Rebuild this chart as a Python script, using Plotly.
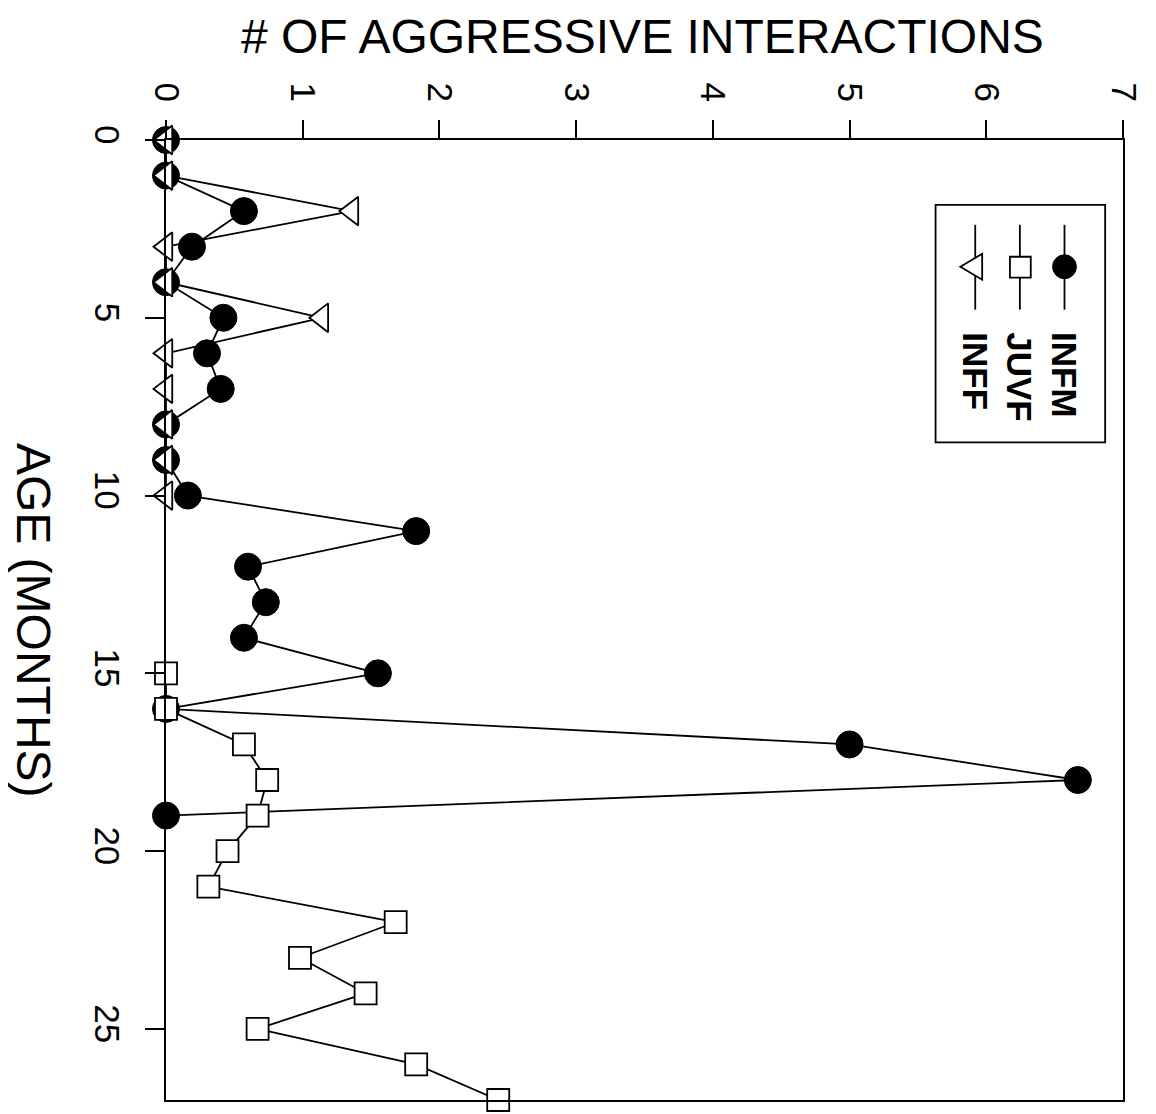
import plotly.graph_objects as go

# ---- data ----
infm_age = list(range(0, 20))
infm_val = [0, 0, 0.57, 0.19, 0, 0.42, 0.30, 0.40, 0, 0, 0.16, 1.83, 0.60, 0.73, 0.57, 1.55, 0, 5.0, 6.67, 0]

juvf_age = list(range(15, 28))
juvf_val = [0, 0, 0.57, 0.74, 0.67, 0.45, 0.31, 1.68, 0.98, 1.46, 0.67, 1.83, 2.43]

inff_age = list(range(0, 11))
inff_val = [0, 0, 1.36, 0, 0, 1.14, 0, 0, 0, 0, 0]

age_ticks = [0, 5, 10, 15, 20, 25]
count_ticks = [0, 1, 2, 3, 4, 5, 6, 7]

OFF = 8  # page body margin
W, H = 1156 - OFF, 1114 - OFF
PL, PR, PT, PB = 166, 1131, 140, 1102  # plot area in page pixels


def px(xp):
    return (xp - PL) / (PR - PL)


def py(yp):
    return (PB - yp) / (PB - PT)


FONT = "Liberation Sans"
LINE = dict(color="black", width=1.8)

fig = go.Figure()
fig.add_trace(go.Scatter(
    x=infm_val, y=infm_age, mode="lines+markers", name="INFM", cliponaxis=False,
    line=LINE, marker=dict(symbol="circle", size=27, color="black", line=dict(color="black", width=1))))
fig.add_trace(go.Scatter(
    x=juvf_val, y=juvf_age, mode="lines+markers", name="JUVF", cliponaxis=False,
    line=LINE, marker=dict(symbol="square", size=22, color="white", line=dict(color="black", width=1.8))))
fig.add_trace(go.Scatter(
    x=inff_val, y=inff_age, mode="lines+markers", name="INFF", cliponaxis=False,
    line=LINE, marker=dict(symbol="triangle-left", size=25, color="white", line=dict(color="black", width=1.8))))

shapes = []
# legend box
shapes.append(dict(type="rect", xref="paper", yref="paper", x0=px(942), x1=px(1113), y0=py(443), y1=py(205),
                   line=dict(color="black", width=1.8), fillcolor="white", layer="above"))
for xc in (1072, 1027, 982):
    shapes.append(dict(type="line", xref="paper", yref="paper", x0=px(xc), x1=px(xc), y0=py(225), y1=py(310),
                       line=dict(color="black", width=1.8), layer="above"))
# circle
shapes.append(dict(type="circle", xref="paper", yref="paper", x0=px(1072 - 12), x1=px(1072 + 12),
                   y0=py(267 + 12), y1=py(267 - 12), fillcolor="black", line=dict(color="black", width=1), layer="above"))
# square
shapes.append(dict(type="rect", xref="paper", yref="paper", x0=px(1017), x1=px(1038),
                   y0=py(278), y1=py(257), fillcolor="white", line=dict(color="black", width=1.8), layer="above"))
# triangle-left
tri = "M {:.5f} {:.5f} L {:.5f} {:.5f} L {:.5f} {:.5f} Z".format(px(967), py(267), px(989), py(254), px(989), py(280))
shapes.append(dict(type="path", xref="paper", yref="paper", path=tri, fillcolor="white",
                   line=dict(color="black", width=1.8), layer="above"))

annotations = [
    dict(text="# OF AGGRESSIVE INTERACTIONS", xref="paper", yref="paper", x=px(646), y=py(36),
         xanchor="center", yanchor="middle", showarrow=False, font=dict(family=FONT, size=48, color="black")),
    dict(text="AGE (MONTHS)", xref="paper", yref="paper", x=px(33), y=py(621), textangle=90,
         xanchor="center", yanchor="middle", showarrow=False, font=dict(family=FONT, size=48, color="black")),
]
for name, xc in (("INFM", 1072), ("JUVF", 1027), ("INFF", 982)):
    annotations.append(dict(text="<b>%s</b>" % name, xref="paper", yref="paper", x=px(xc), y=py(331),
                            textangle=90, xanchor="center", yanchor="top", showarrow=False,
                            font=dict(family=FONT, size=35, color="black")))

fig.update_layout(
    width=W, height=H, showlegend=False,
    paper_bgcolor="white", plot_bgcolor="white",
    margin=dict(l=PL - OFF, r=(W + OFF) - PR, t=PT - OFF, b=(H + OFF) - PB, pad=0),
    shapes=shapes, annotations=annotations,
    xaxis=dict(side="top", range=[0, 7], tickvals=count_ticks, tickangle=90,
               ticks="outside", ticklen=18, tickwidth=1.8, tickcolor="black",
               showline=True, linecolor="black", linewidth=1.8, mirror=True,
               showgrid=False, zeroline=False, ticklabelstandoff=6,
               tickfont=dict(family=FONT, size=35, color="black")),
    yaxis=dict(range=[27, 0], tickvals=age_ticks, tickangle=90,
               ticks="outside", ticklen=19, tickwidth=1.8, tickcolor="black",
               showline=True, linecolor="black", linewidth=1.8, mirror=True,
               showgrid=False, zeroline=False, ticklabelstandoff=8,
               tickfont=dict(family=FONT, size=35, color="black")),
)

fig.write_html("out.html")
